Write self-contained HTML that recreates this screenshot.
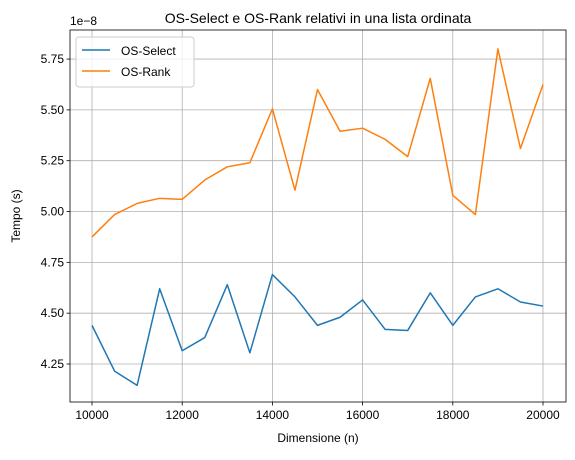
<!DOCTYPE html>
<html><head><meta charset="utf-8"><style>
body{margin:0;background:#fff}
svg{font-family:"Liberation Sans","DejaVu Sans",sans-serif}
</style></head><body>
<svg id="c" width="575" height="455" viewBox="0 0 575 455">
<rect width="575" height="455" fill="#fff"/>
<g id="grid"></g>
<g id="series"></g>
<rect x="70" y="30" width="496" height="372" fill="none" stroke="#000" stroke-width="0.8"/>
<g id="ticks" font-size="12"></g>
<text x="318" y="23" text-anchor="middle" font-size="14">OS-Select e OS-Rank relativi in una lista ordinata</text>
<text x="70" y="25" font-size="12">1e−8</text>
<text x="318" y="442" text-anchor="middle" font-size="12">Dimensione (n)</text>
<text transform="translate(20,216) rotate(-90)" text-anchor="middle" font-size="12">Tempo (s)</text>
<g>
<rect x="76" y="37" width="118" height="50" rx="3" fill="#fff" fill-opacity="0.8" stroke="#ccc"/>
<g><line x1="82" y1="50" x2="110" y2="50" stroke="#1f77b4" stroke-width="1.5"/><text x="121" y="55" font-size="12">OS-Select</text></g>
<g><line x1="82" y1="71" x2="110" y2="71" stroke="#ff7f0e" stroke-width="1.5"/><text x="121" y="76" font-size="12">OS-Rank</text></g>
</g>
</svg>
<script>
const sizes=[10000,10500,11000,11500,12000,12500,13000,13500,14000,14500,15000,15500,16000,16500,17000,17500,18000,18500,19000,19500,20000];
const selectVals=[4.44,4.215,4.145,4.62,4.315,4.38,4.64,4.305,4.69,4.58,4.44,4.48,4.565,4.42,4.415,4.60,4.44,4.58,4.62,4.555,4.535];
const rankVals=[4.875,4.985,5.04,5.065,5.06,5.155,5.22,5.24,5.505,5.105,5.60,5.395,5.41,5.355,5.27,5.655,5.08,4.985,5.80,5.31,5.625];
const xTicks=[10000,12000,14000,16000,18000,20000];
const yTicks=[4.25,4.5,4.75,5.0,5.25,5.5,5.75];
const yTickLabels=["4.25","4.50","4.75","5.00","5.25","5.50","5.75"];
const NS="http://www.w3.org/2000/svg";
const X0=70,X1=566,Y0=30,Y1=402,xmin=9512,xmax=20510,ymin=4.063,ymax=5.893;
const sx=v=>X0+(v-xmin)/(xmax-xmin)*(X1-X0);
const sy=v=>Y1-(v-ymin)/(ymax-ymin)*(Y1-Y0);
function mk(t,a,p){const e=document.createElementNS(NS,t);for(const k in a)e.setAttribute(k,a[k]);p.appendChild(e);return e;}
const grid=document.getElementById('grid'),ticks=document.getElementById('ticks'),ser=document.getElementById('series');
xTicks.forEach(v=>{const x=sx(v);
const g=mk('line',{x1:x,x2:x,y1:Y0,y2:Y1,stroke:'#b0b0b0','stroke-width':0.8},grid);


mk('line',{x1:x,x2:x,y1:Y1,y2:Y1+3.5,stroke:'#000','stroke-width':0.8},ticks);
const t=mk('text',{x:x,y:Y1+17,'text-anchor':'middle'},ticks);t.textContent=v;

});
yTicks.forEach((v,i)=>{const y=sy(v);
const g=mk('line',{x1:X0,x2:X1,y1:y,y2:y,stroke:'#b0b0b0','stroke-width':0.8},grid);


mk('line',{x1:X0-3.5,x2:X0,y1:y,y2:y,stroke:'#000','stroke-width':0.8},ticks);
const t=mk('text',{x:X0-6,y:y+4,'text-anchor':'end'},ticks);t.textContent=yTickLabels[i];

});
function line(vals,col,name){const p=mk('polyline',{points:sizes.map((s,i)=>sx(s)+','+sy(vals[i])).join(' '),fill:'none',stroke:col,'stroke-width':1.5,'stroke-linejoin':'round'},ser);

}
line(selectVals,'#1f77b4','os-select-line');
line(rankVals,'#ff7f0e','os-rank-line');
</script>
</body></html>
